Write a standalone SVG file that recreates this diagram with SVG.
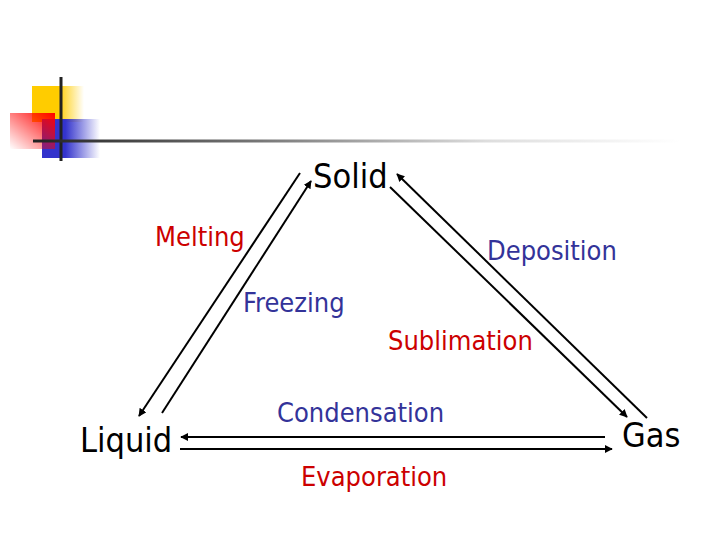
<svg xmlns="http://www.w3.org/2000/svg" width="720" height="540" viewBox="0 0 720 540">
<defs>
<linearGradient id="gYellow" x1="0" y1="0" x2="1" y2="0">
<stop offset="0" stop-color="#ffcc00"/><stop offset="0.5" stop-color="#ffcc00"/><stop offset="1" stop-color="#ffcc00" stop-opacity="0"/>
</linearGradient>
<linearGradient id="gBlue" x1="0" y1="0" x2="1" y2="0">
<stop offset="0" stop-color="#3333cc"/><stop offset="0.4" stop-color="#3333cc"/><stop offset="1" stop-color="#3333cc" stop-opacity="0"/>
</linearGradient>
<linearGradient id="gRed" x1="1" y1="0" x2="0" y2="1">
<stop offset="0" stop-color="#ff0000"/><stop offset="1" stop-color="#ff0000" stop-opacity="0"/>
</linearGradient>
<linearGradient id="gLine" x1="33" y1="0" x2="680" y2="0" gradientUnits="userSpaceOnUse">
<stop offset="0" stop-color="#222222"/><stop offset="0.35" stop-color="#777777"/><stop offset="0.7" stop-color="#dddddd"/><stop offset="1" stop-color="#ffffff"/>
</linearGradient>
<marker id="arr" viewBox="0 0 10 10" refX="9" refY="5" markerWidth="4" markerHeight="4" orient="auto" markerUnits="strokeWidth">
<path d="M0,0 L10,5 L0,10 Z" fill="#000"/>
</marker>
</defs>
<style>
.lbl{font-family:"DejaVu Sans Condensed","DejaVu Sans",Tahoma,sans-serif;}
.state{font-size:34px;fill:#000;}
.proc{font-size:27px;}
.red{fill:#cc0000;}
.navy{fill:#333399;}
.conn line{stroke:#000;stroke-width:2;marker-end:url(#arr);}
</style>
<g id="logo">
<rect x="32" y="86" width="52" height="36" fill="url(#gYellow)"/>
<rect x="42" y="119" width="58" height="39" fill="url(#gBlue)"/>
<rect x="10" y="113" width="45" height="36" fill="url(#gRed)"/>
<rect x="59.5" y="77" width="3" height="84" fill="#222"/>
<rect x="33" y="139.5" width="647" height="3" fill="url(#gLine)"/>
</g>
<g class="conn" id="connectors">
<line x1="300" y1="173" x2="139" y2="416"/>
<line x1="162" y1="413" x2="311" y2="181"/>
<line x1="647" y1="418" x2="397" y2="174"/>
<line x1="390" y1="187" x2="627" y2="417"/>
<line x1="605" y1="437" x2="181" y2="437"/>
<line x1="180" y1="449" x2="612" y2="449"/>
</g>
<g id="solid"><text class="lbl state" x="313" y="188">Solid</text></g>
<g id="liquid"><text class="lbl state" x="80" y="452">Liquid</text></g>
<g id="gas"><text class="lbl state" x="622" y="447">Gas</text></g>
<g id="melting"><text class="lbl proc red" x="155" y="246">Melting</text></g>
<g id="freezing"><text class="lbl proc navy" x="243" y="312">Freezing</text></g>
<g id="deposition"><text class="lbl proc navy" x="487" y="260">Deposition</text></g>
<g id="sublimation"><text class="lbl proc red" x="388" y="350">Sublimation</text></g>
<g id="condensation"><text class="lbl proc navy" x="277" y="422">Condensation</text></g>
<g id="evaporation"><text class="lbl proc red" x="301" y="486">Evaporation</text></g>
</svg>
